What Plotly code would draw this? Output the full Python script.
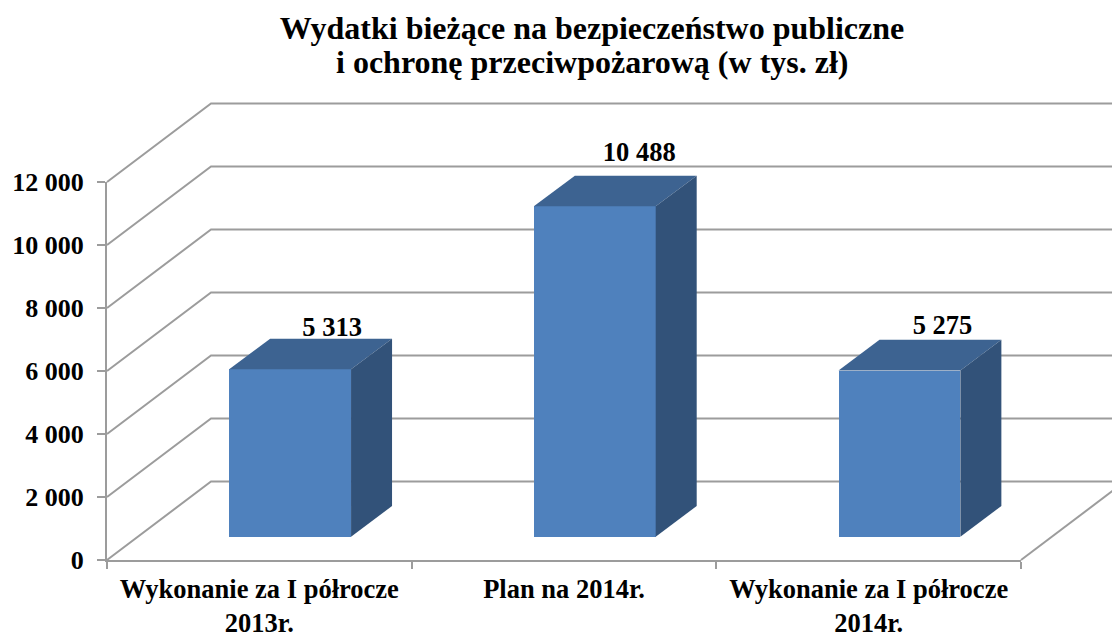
import plotly.graph_objects as go

categories = ["Wykonanie za I półrocze<br>2013r.", "Plan na 2014r.", "Wykonanie za I półrocze<br>2014r."]
values = [5313, 10488, 5275]
value_labels = ["5 313", "10 488", "5 275"]
y_ticks = [0, 2000, 4000, 6000, 8000, 10000, 12000]
y_tick_labels = ["0", "2 000", "4 000", "6 000", "8 000", "10 000", "12 000"]

# Chart geometry
W, H = 1112, 633
AX_L, AX_R, AX_B, AX_T = 107, 1021, 560, 182   # pixel box of the front axes
X_MAX, Y_MAX = 3, 12000
PX_X = (AX_R - AX_L) / X_MAX
PX_Y = (AX_B - AX_T) / Y_MAX
WALL_DX, WALL_DY = 104 / PX_X, 78.5 / PX_Y
BAR_WIDTH, BAR_SHIFT = 0.4, 0.101
BAR_BASE = 23.3 / PX_Y
BAR_DX, BAR_DY = 41 / PX_X, 30.7 / PX_Y
X_FULL = [-AX_L / PX_X, (W - AX_L) / PX_X]
Y_FULL = [(AX_B - H) / PX_Y, AX_B / PX_Y]
LABEL_NUDGE_X = [1, 3.5, 2]    # pixels, manual label placement of the original
LABEL_NUDGE_Y = [-4, 8, -1]

GRID = "#9c9c9c"
FRONT, TOP, SIDE = "#4f81bd", "#3d6391", "#325279"
FONT = "Liberation Serif"

fig = go.Figure()

# Front axes: carries the real ticks and tick labels
fig.add_trace(go.Scatter(
    x=[i + 0.5 for i in range(len(values))], y=values, mode="none",
    showlegend=False, hoverinfo="skip"))

# Walls and floor
for t in y_ticks:
    fig.add_trace(go.Scatter(
        x=[0, WALL_DX, X_FULL[1]], y=[t, t + WALL_DY, t + WALL_DY],
        mode="lines", line=dict(color=GRID, width=2),
        xaxis="x2", yaxis="y2", hoverinfo="skip", showlegend=False))
fig.add_trace(go.Scatter(
    x=[X_MAX, X_MAX + WALL_DX], y=[0, WALL_DY],
    mode="lines", line=dict(color=GRID, width=2),
    xaxis="x2", yaxis="y2", hoverinfo="skip", showlegend=False))

# Bars, above the walls
centers = [i + 0.5 + BAR_SHIFT for i in range(len(values))]
fig.add_trace(go.Bar(
    x=centers, y=values, base=BAR_BASE, width=BAR_WIDTH,
    marker=dict(color=FRONT, line=dict(width=0)),
    xaxis="x3", yaxis="y3", showlegend=False, hoverinfo="skip"))

for c, v in zip(centers, values):
    left, right = c - BAR_WIDTH / 2, c + BAR_WIDTH / 2
    bottom, top = BAR_BASE, BAR_BASE + v
    fig.add_trace(go.Scatter(
        x=[left, right, right + BAR_DX, left + BAR_DX, left],
        y=[top, top, top + BAR_DY, top + BAR_DY, top],
        mode="lines", fill="toself", fillcolor=TOP, line=dict(width=0),
        xaxis="x3", yaxis="y3", showlegend=False, hoverinfo="skip"))
    fig.add_trace(go.Scatter(
        x=[right, right + BAR_DX, right + BAR_DX, right, right],
        y=[bottom, bottom + BAR_DY, top + BAR_DY, top, bottom],
        mode="lines", fill="toself", fillcolor=SIDE, line=dict(width=0),
        xaxis="x3", yaxis="y3", showlegend=False, hoverinfo="skip"))

fig.add_trace(go.Scatter(
    x=[c + BAR_DX + nx / PX_X for c, nx in zip(centers, LABEL_NUDGE_X)],
    y=[BAR_BASE + v + BAR_DY + ny / PX_Y for v, ny in zip(values, LABEL_NUDGE_Y)],
    text=value_labels, mode="text", textposition="top center",
    textfont=dict(family=FONT, size=26.5, color="#000000", weight=700),
    xaxis="x3", yaxis="y3", showlegend=False, hoverinfo="skip"))

fig.update_layout(
    width=W, height=H,
    margin=dict(l=0, r=0, t=0, b=0, autoexpand=False),
    paper_bgcolor="#ffffff", plot_bgcolor="rgba(0,0,0,0)",
    bargap=0,
    title=dict(
        text="Wydatki bieżące na bezpieczeństwo publiczne",
        x=592 / W, xref="paper", xanchor="center",
        y=1 - 27.5 / H, yref="paper", yanchor="middle",
        automargin=False,
        font=dict(family=FONT, size=32, color="#000000", weight=700)),
    annotations=[dict(
        text="i ochronę przeciwpożarową (w tys. zł)",
        x=592 / W, y=1 - 62 / H, xref="paper", yref="paper",
        xanchor="center", yanchor="middle", showarrow=False,
        font=dict(family=FONT, size=32, color="#000000", weight=700))],
    xaxis=dict(
        domain=[AX_L / W, AX_R / W],
        range=[0, X_MAX], showgrid=False, zeroline=False,
        showline=True, linecolor=GRID, linewidth=2,
        tickmode="array", tickvals=[0.5, 1.5, 2.5], ticktext=categories,
        ticks="", ticklabelstandoff=4,
        tickfont=dict(family=FONT, size=26.5, color="#000000", weight=700),
        minor=dict(tickmode="array", tickvals=[0, 1, 2, 3], ticks="outside",
                   ticklen=7, tickwidth=2, tickcolor=GRID, showgrid=False)),
    yaxis=dict(
        domain=[1 - AX_B / H, 1 - AX_T / H],
        range=[0, Y_MAX], showgrid=False, zeroline=False,
        showline=True, linecolor=GRID, linewidth=2,
        tickmode="array", tickvals=y_ticks, ticktext=y_tick_labels,
        ticks="outside", ticklen=8, tickwidth=2, tickcolor=GRID,
        ticklabelstandoff=8,
        tickfont=dict(family=FONT, size=26, color="#000000", weight=700)),
    xaxis2=dict(domain=[0, 1], range=X_FULL, visible=False, anchor="y2"),
    yaxis2=dict(domain=[0, 1], range=Y_FULL, visible=False, anchor="x2"),
    xaxis3=dict(range=X_FULL, overlaying="x2", visible=False, anchor="y3"),
    yaxis3=dict(range=Y_FULL, overlaying="y2", visible=False, anchor="x3"),
)

fig.write_html("out.html", config={"displayModeBar": False},
               post_script="document.body.style.margin='0';")
